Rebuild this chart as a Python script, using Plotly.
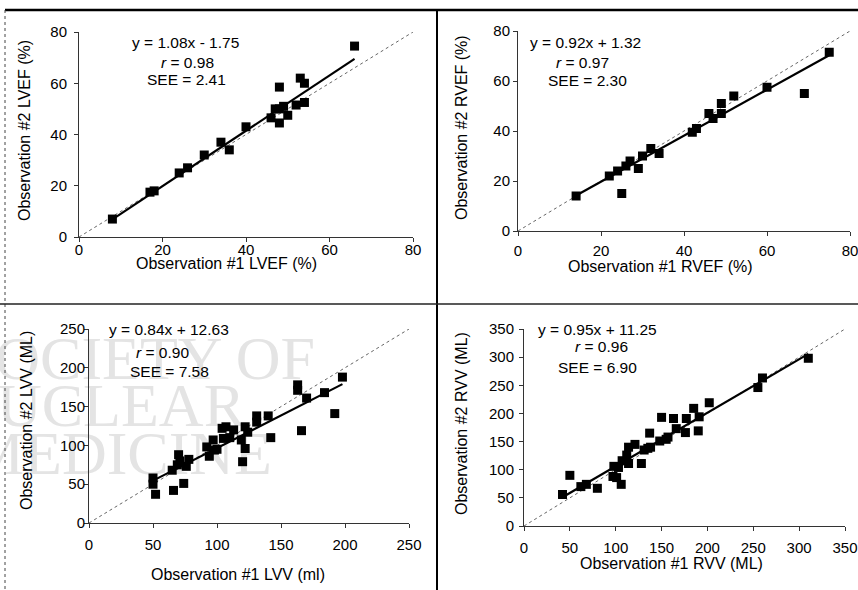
import plotly.graph_objects as go

W, H = 858, 590

# ---------------- data ----------------
lvef_obs1 = [8, 17, 18, 24, 26, 30, 34, 36, 40, 46, 47, 48, 48, 48, 49, 50, 52, 53, 54, 54, 66]
lvef_obs2 = [7, 17.5, 18, 25, 27, 32, 37, 34, 43, 46.5, 50, 58.5, 44.5, 50, 51, 47.5, 51.5, 62, 60, 52.5, 74.5]
lvef_fit = (1.08, -1.75)
lvef_text = ["y = 1.08x - 1.75", "<i>r</i> = 0.98", "SEE = 2.41"]

rvef_obs1 = [14, 22, 24, 25, 26, 27, 29, 30, 32, 34, 42, 43, 46, 47, 49, 49, 52, 60, 69, 75]
rvef_obs2 = [14, 22, 24, 15, 26, 28, 25, 30, 33, 31, 39.5, 41, 47, 45, 51, 47, 54, 57.5, 55, 71.5]
rvef_fit = (0.92, 1.32)
rvef_text = ["y = 0.92x + 1.32", "<i>r</i> = 0.97", "SEE = 2.30"]

lvv_obs1 = [50, 50, 52, 65, 66, 69, 70, 71, 74, 76, 78, 92, 94, 97, 98, 100, 104, 105, 107, 110,
            113, 119, 120, 122, 122, 124, 131, 131, 140, 142, 163, 163, 166, 170, 184, 192, 198]
lvv_obs2 = [58, 50, 37, 68, 42, 75, 88, 80, 51, 73, 82, 98, 86, 107, 94, 95, 122, 109, 124, 110,
            120, 107, 79, 96, 124, 117, 138, 130, 138, 110, 178, 171, 119, 161, 168, 141, 188]
lvv_fit = (0.84, 12.63)
lvv_text = ["y = 0.84x + 12.63", "<i>r</i> = 0.90", "SEE = 7.58"]

rvv_obs1 = [42, 50, 62, 68, 80, 97, 98, 101, 103, 106, 107, 112, 114, 114, 121, 128, 131, 135, 137,
            138, 148, 150, 155, 157, 163, 166, 176, 177, 185, 190, 191, 202, 255, 260, 310]
rvv_obs2 = [56, 90, 70, 74, 67, 88, 106, 86, 104, 74, 116, 126, 140, 111, 145, 111, 135, 138, 165,
            140, 151, 193, 154, 158, 191, 173, 166, 191, 209, 169, 194, 219, 246, 263, 298]
rvv_fit = (0.95, 11.25)
rvv_text = ["y = 0.95x + 11.25", "<i>r</i> = 0.96", "SEE = 6.90"]

x_titles = ["Observation #1 LVEF (%)", "Observation #1 RVEF (%)", "Observation #1 LVV (ml)", "Observation #1 RVV (ML)"]
y_titles = ["Observation #2 LVEF (%)", "Observation #2 RVEF (%)", "Observation #2 LVV (ML)", "Observation #2 RVV (ML)"]
axis_max = [80, 80, 250, 350]
axis_dtick = [20, 20, 50, 50]

watermark_lines = ["SOCIETY OF", "NUCLEAR", "MEDICINE"]

# ---------------- layout geometry (pixels) ----------------
plot_px = [  # x0, x1, y_top, y_bottom
    (79, 413, 32, 237),
    (518, 850, 31, 231),
    (89, 409, 329, 523),
    (524, 845, 329, 526),
]
xlabel_standoff = [-5, 2, 4, 4]
ylabel_standoff = [4, 0, -4, 2]
stats_px = [
    [(185, 43), (187, 62), (186, 80)],
    [(585, 43), (582, 62), (587, 81)],
    [(169, 329), (162, 352), (169, 371)],
    [(597, 329), (601, 346), (597, 367)],
]
xtitle_px = [(227, 263), (660, 266), (238, 574), (671, 563)]
ytitle_px = [(25, 131), (461, 127), (26, 421), (461, 423)]
watermark_px = [(315, 363), (245, 410), (272, 458)]  # right end, vertical centre

FONT = "Arial, Liberation Sans, sans-serif"


def px(x):
    return x / W


def py(y):
    return 1 - y / H


panels = [
    (lvef_obs1, lvef_obs2, lvef_fit, lvef_text),
    (rvef_obs1, rvef_obs2, rvef_fit, rvef_text),
    (lvv_obs1, lvv_obs2, lvv_fit, lvv_text),
    (rvv_obs1, rvv_obs2, rvv_fit, rvv_text),
]

fig = go.Figure()
annotations = []
layout_axes = {}

for i, (xs, ys, fit, texts) in enumerate(panels):
    n = "" if i == 0 else str(i + 1)
    xa, ya = "x" + n, "y" + n
    x0, x1, yt, yb = plot_px[i]
    amax = axis_max[i]

    if i == 2:
        # faint watermark behind the data (pixel positions converted to this panel's data space)
        sx = (x1 - x0) / amax
        sy = (yb - yt) / amax
        fig.add_trace(go.Scatter(
            x=[(p[0] - x0) / sx for p in watermark_px],
            y=[(yb - p[1]) / sy for p in watermark_px], mode="text",
            text=watermark_lines, textposition="middle left",
            textfont=dict(family="Liberation Serif, Times New Roman, serif", size=62, color="#e4e4e4"),
            cliponaxis=False, hoverinfo="skip", showlegend=False, xaxis=xa, yaxis=ya))

    # identity line
    fig.add_trace(go.Scatter(x=[0, amax], y=[0, amax], mode="lines",
                             line=dict(color="#666666", width=1, dash="dot"),
                             showlegend=False, hoverinfo="skip", xaxis=xa, yaxis=ya))
    # regression line
    m, b = fit
    lo, hi = min(xs), max(xs)
    fig.add_trace(go.Scatter(x=[lo, hi], y=[m * lo + b, m * hi + b], mode="lines",
                             line=dict(color="black", width=2.2),
                             showlegend=False, hoverinfo="skip", xaxis=xa, yaxis=ya))
    # points
    fig.add_trace(go.Scatter(x=xs, y=ys, mode="markers",
                             marker=dict(symbol="square", size=9, color="black"),
                             showlegend=False, xaxis=xa, yaxis=ya, cliponaxis=False))

    common = dict(range=[0, amax], dtick=axis_dtick[i], tick0=0, showgrid=False, zeroline=False,
                  showline=True, linecolor="#333333", linewidth=1, ticks="outside", ticklen=4,
                  tickcolor="#333333", tickfont=dict(family=FONT, size=15, color="black"),
                  fixedrange=True, automargin=False, ticklabeloverflow="allow")
    layout_axes["xaxis" + n] = dict(common, domain=[px(x0), px(x1)], anchor=ya,
                                    ticklabelstandoff=xlabel_standoff[i])
    layout_axes["yaxis" + n] = dict(common, domain=[py(yb), py(yt)], anchor=xa,
                                    ticklabelstandoff=ylabel_standoff[i])

    for t, (cx, cy) in zip(texts, stats_px[i]):
        annotations.append(dict(text=t, x=px(cx), y=py(cy), xref="paper", yref="paper",
                                xanchor="center", yanchor="middle", showarrow=False,
                                font=dict(family=FONT, size=15.5, color="black")))
    cx, cy = xtitle_px[i]
    annotations.append(dict(text=x_titles[i], x=px(cx), y=py(cy), xref="paper", yref="paper",
                            xanchor="center", yanchor="middle", showarrow=False,
                            font=dict(family=FONT, size=16, color="black")))
    cx, cy = ytitle_px[i]
    annotations.append(dict(text=y_titles[i], x=px(cx), y=py(cy), xref="paper", yref="paper",
                            xanchor="center", yanchor="middle", showarrow=False, textangle=-90,
                            font=dict(family=FONT, size=16, color="black")))

shapes = [
    dict(type="line", xref="paper", yref="paper", x0=px(5), x1=1, y0=py(10), y1=py(10),
         line=dict(color="black", width=2.5)),
    dict(type="line", xref="paper", yref="paper", x0=px(5), x1=px(5), y0=py(10), y1=0,
         line=dict(color="#444444", width=1, dash="dot")),
    dict(type="line", xref="paper", yref="paper", x0=px(437), x1=px(437), y0=py(10), y1=0,
         line=dict(color="black", width=2)),
    dict(type="line", xref="paper", yref="paper", x0=0, x1=1, y0=py(304), y1=py(304),
         line=dict(color="#222222", width=1.5)),
]

fig.update_layout(
    width=W, height=H, margin=dict(l=0, r=0, t=0, b=0, autoexpand=False),
    paper_bgcolor="white", plot_bgcolor="white",
    showlegend=False, annotations=annotations, shapes=shapes,
    **layout_axes,
)

fig.write_html(
    "out.html",
    config={"displayModeBar": False, "staticPlot": True},
    post_script="document.body.style.margin='0';document.body.style.padding='0';"
                "document.body.style.overflow='hidden';"
                "document.documentElement.style.overflow='hidden';",
)
